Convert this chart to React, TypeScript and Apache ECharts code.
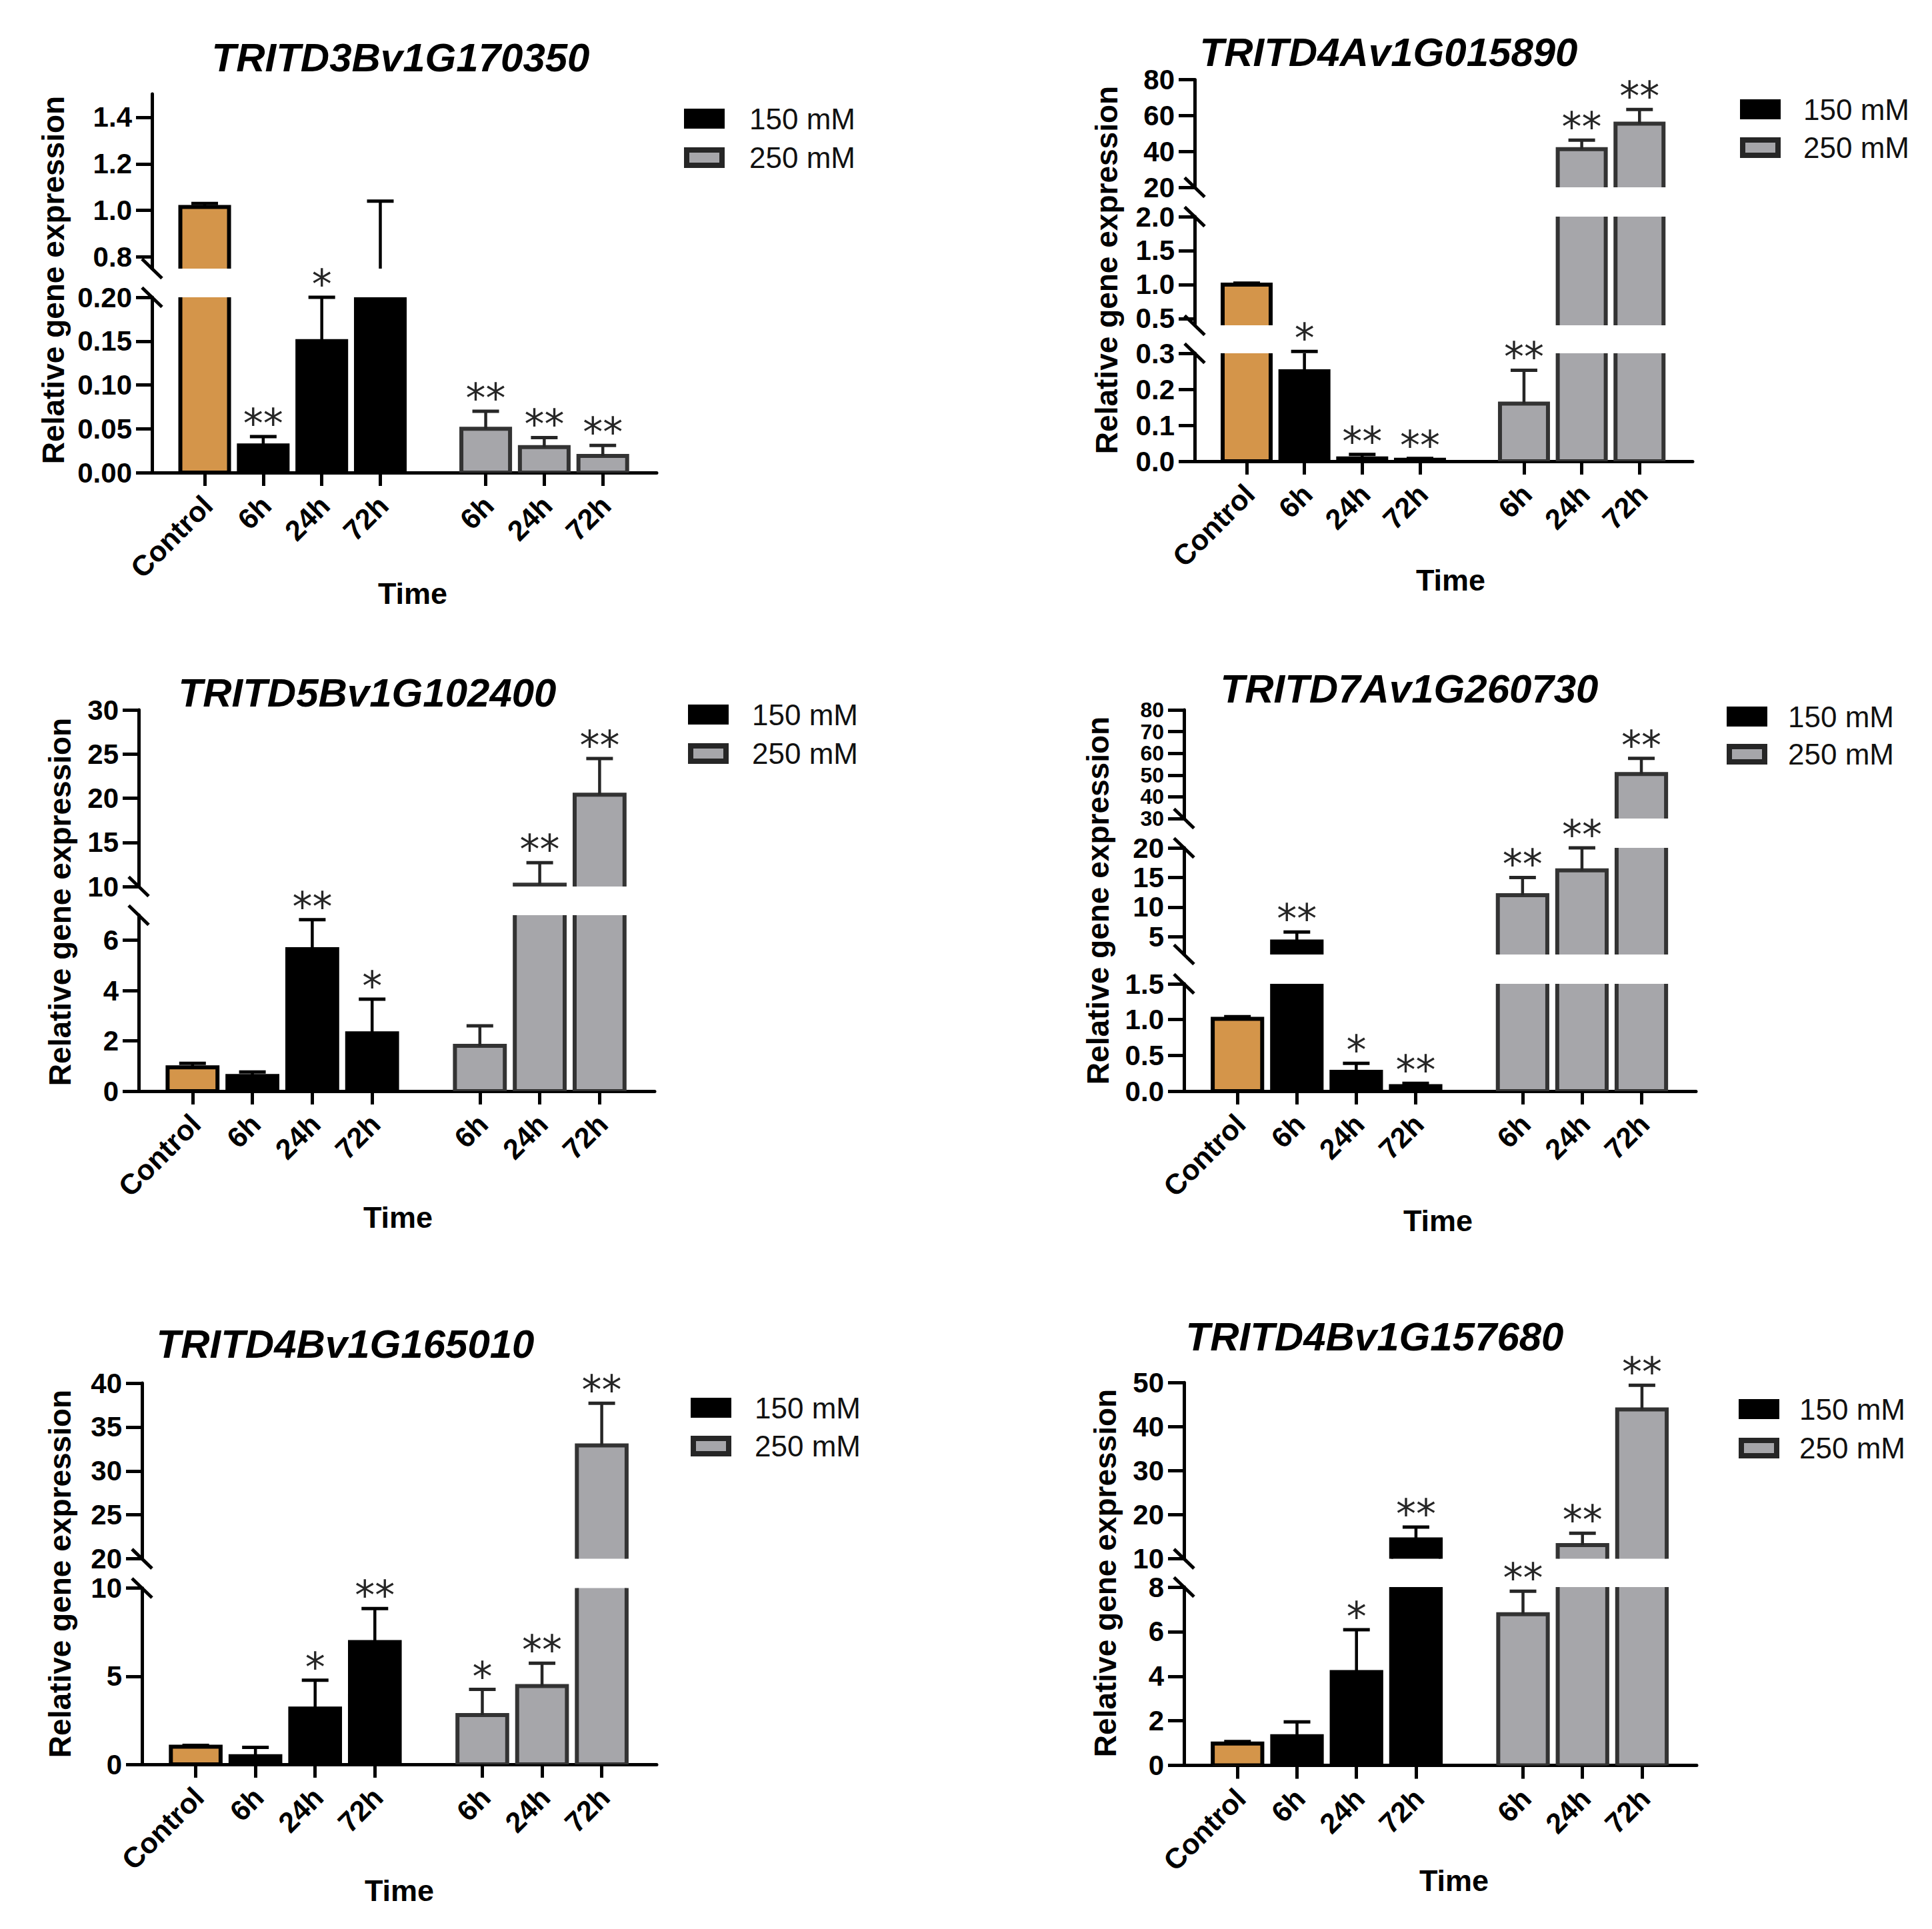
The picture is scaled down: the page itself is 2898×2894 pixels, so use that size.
import React, { useEffect, useRef } from "react";
import * as echarts from "echarts";

// ---------------- data ----------------
const GENES = [
  "TRITD3Bv1G170350",
  "TRITD4Av1G015890",
  "TRITD5Bv1G102400",
  "TRITD7Av1G260730",
  "TRITD4Bv1G165010",
  "TRITD4Bv1G157680",
];
const TIME_LABELS = ["Control", "6h", "24h", "72h", "6h", "24h", "72h"];
const X_POSITIONS = [0, 1, 2, 3, 4.8, 5.8, 6.8];
const LEGEND_LABELS = ["150 mM", "250 mM"];
const AXIS_X_NAME = "Time";
const AXIS_Y_NAME = "Relative gene expression";

const CONTROL_MEAN = [1.015, 1.0, 0.95, 1.01, 1.0, 0.98];
const CONTROL_SEM = [0.015, 0.02, 0.16, 0.03, 0.08, 0.09];

const MEAN_150 = [
  [0.031, 0.15, 0.5],
  [0.25, 0.008, 0.004],
  [0.6, 5.65, 2.3],
  [4.2, 0.27, 0.07],
  [0.46, 3.17, 6.94],
  [1.31, 4.19, 14.4],
];
const SEM_150 = [
  [0.01, 0.05, 0.54],
  [0.055, 0.011, 0.004],
  [0.16, 1.17, 1.36],
  [1.6, 0.12, 0.04],
  [0.5, 1.6, 1.9],
  [0.64, 1.9, 2.8],
];
const MEAN_250 = [
  [0.05, 0.029, 0.019],
  [0.16, 41.3, 55.5],
  [1.8, 10.2, 20.4],
  [12.0, 16.2, 50.5],
  [2.8, 4.44, 32.9],
  [6.78, 13.1, 43.9],
];
const SEM_250 = [
  [0.02, 0.011, 0.012],
  [0.093, 5.0, 7.9],
  [0.8, 2.5, 4.1],
  [3.0, 3.8, 7.2],
  [1.45, 1.3, 4.8],
  [1.03, 2.7, 5.5],
];
const SIG_150 = [
  ["**", "*", ""],
  ["*", "**", "**"],
  ["", "**", "*"],
  ["**", "*", "**"],
  ["", "*", "**"],
  ["", "*", "**"],
];
const SIG_250 = [
  ["**", "**", "**"],
  ["**", "**", "**"],
  ["", "**", "**"],
  ["**", "**", "**"],
  ["*", "**", "**"],
  ["**", "**", "**"],
];

// broken y-axis segments (bottom to top): value ranges, tick values, decimals
const SEG_RANGES = [
  [[0, 0.2], [0.75, 1.5]],
  [[0, 0.3], [0.4, 2.0], [20, 80]],
  [[0, 7], [10, 30]],
  [[0, 1.5], [2, 20], [30, 80]],
  [[0, 10], [20, 40]],
  [[0, 8], [10, 50]],
];
const SEG_TICKS = [
  [[0, 0.05, 0.1, 0.15, 0.2], [0.8, 1.0, 1.2, 1.4]],
  [[0, 0.1, 0.2, 0.3], [0.5, 1.0, 1.5, 2.0], [20, 40, 60, 80]],
  [[0, 2, 4, 6], [10, 15, 20, 25, 30]],
  [[0, 0.5, 1.0, 1.5], [5, 10, 15, 20], [30, 40, 50, 60, 70, 80]],
  [[0, 5, 10], [20, 25, 30, 35, 40]],
  [[0, 2, 4, 6, 8], [10, 20, 30, 40, 50]],
];
const SEG_DECIMALS = [[2, 1], [1, 1, 0], [0, 0], [1, 0, 0], [0, 0], [0, 0]];

// ---------------- layout (pixels) ----------------
const LAYOUT = [
  { left: 228, right: 985, seg: [[709, 446], [403, 141]], title: [601, 86], yTitle: [80, 420], time: [619, 890], lg: [1026, 163, 221, 1124] },
  { left: 1792, right: 2539, seg: [[692, 530], [488, 325], [281, 119.5]], title: [2083, 78], yTitle: [1660, 405], time: [2176, 870], lg: [2610, 149, 206, 2705] },
  { left: 208, right: 982, seg: [[1637, 1373], [1330, 1065]], title: [551, 1039], yTitle: [90, 1353], time: [597, 1826], lg: [1032, 1057, 1115, 1128] },
  { left: 1776, right: 2544, seg: [[1637, 1476], [1432, 1272], [1228, 1065]], title: [2114, 1033], yTitle: [1647, 1351], time: [2157, 1831], lg: [2590, 1060, 1116, 2682] },
  { left: 213, right: 985, seg: [[2647, 2382.5], [2338.6, 2075]], title: [518, 2016], yTitle: [90, 2361], time: [599, 2836], lg: [1036, 2097, 2154, 1132] },
  { left: 1776, right: 2545, seg: [[2648.6, 2381], [2338.6, 2074.3]], title: [2062, 2005], yTitle: [1658, 2360], time: [2181, 2821], lg: [2608, 2099, 2157, 2699] },
];

const X_MIN = -0.9;
const X_MAX = 7.72;
const LABEL_SHIFT = 0.05;
const BAR_STROKE = 6;
const AXIS_W = 5;
const STYLES = [
  { fill: "#d4954a", stroke: "#000000", err: "#000000" },
  { fill: "#000000", stroke: "#000000", err: "#000000" },
  { fill: "#a6a6aa", stroke: "#333333", err: "#262626" },
];
const ARIAL = "Liberation Sans, Arial, sans-serif";
const TICK_SIZE = 42;
const DENSE_TICK_SIZE = 32;

function panelItems(p: number) {
  const items: number[][] = [[X_POSITIONS[0], CONTROL_MEAN[p], CONTROL_SEM[p], 0, 0]];
  for (let i = 0; i < 3; i++) items.push([X_POSITIONS[1 + i], MEAN_150[p][i], SEM_150[p][i], 1, 1 + i]);
  for (let i = 0; i < 3; i++) items.push([X_POSITIONS[4 + i], MEAN_250[p][i], SEM_250[p][i], 2, 4 + i]);
  return items;
}

function xLabel(v: number) {
  for (let i = 0; i < X_POSITIONS.length; i++) {
    if (Math.abs(X_POSITIONS[i] + LABEL_SHIFT - v) < 0.02) return TIME_LABELS[i];
  }
  return "";
}

function buildOption() {
  const grid: any[] = [];
  const xAxis: any[] = [];
  const yAxis: any[] = [];
  const series: any[] = [];
  const graphic: any[] = [];
  const lineStyle = { color: "#000", width: AXIS_W };

  LAYOUT.forEach((L, p) => {
    const items = panelItems(p);
    const sigs = ["", ...SIG_150[p], ...SIG_250[p]];
    const segs = SEG_RANGES[p];
    segs.forEach((rng, s) => {
      const [bot, top] = L.seg[s];
      const gi = grid.length;
      grid.push({ left: L.left, top, width: L.right - L.left, height: bot - top, containLabel: false, outerBoundsMode: "none" });
      const isBottom = s === 0;
      xAxis.push({
        type: "value",
        gridIndex: gi,
        min: X_MIN,
        max: X_MAX,
        show: isBottom,
        axisLine: { show: true, onZero: false, lineStyle },
        axisTick: { show: true, customValues: X_POSITIONS, length: 20, lineStyle },
        axisLabel: {
          show: true,
          customValues: X_POSITIONS.map((v) => v + LABEL_SHIFT),
          formatter: (v: number) => xLabel(v),
          rotate: 45,
          margin: 42,
          hideOverlap: false,
          showMinLabel: true,
          showMaxLabel: true,
          fontFamily: ARIAL,
          fontWeight: "bold",
          fontSize: 43,
          color: "#000",
        },
        splitLine: { show: false },
      });
      const ticks = SEG_TICKS[p][s];
      const dec = SEG_DECIMALS[p][s];
      const spacing = (bot - top) * (ticks.length > 1 ? (ticks[1] - ticks[0]) / (rng[1] - rng[0]) : 1);
      const dense = spacing < 40;
      const fs = dense ? DENSE_TICK_SIZE : TICK_SIZE;
      yAxis.push({
        type: "value",
        gridIndex: gi,
        min: rng[0],
        max: rng[1],
        axisLine: { show: true, onZero: false, lineStyle },
        axisTick: { show: true, customValues: ticks, length: 24, lineStyle },
        axisLabel: {
          show: true,
          customValues: ticks,
          formatter: (v: number) => v.toFixed(dec),
          margin: 30,
          hideOverlap: false,
          showMinLabel: true,
          showMaxLabel: true,
          fontFamily: ARIAL,
          fontWeight: "bold",
          fontSize: fs,
          lineHeight: dense ? 30 : fs,
          color: "#000",
        },
        splitLine: { show: false },
      });
      // bars + error stems (clipped to the segment)
      series.push({
        type: "custom",
        xAxisIndex: gi,
        yAxisIndex: gi,
        clip: true,
        silent: true,
        encode: { x: 0, y: 1 },
        data: items,
        renderItem: (params: any, api: any) => {
          const x = api.value(0);
          const v = api.value(1);
          const e = api.value(2);
          const k = api.value(3);
          const base = api.coord([x, 0]);
          const tp = api.coord([x, v]);
          const et = api.coord([x, v + e]);
          const unit = api.size([1, 0])[0];
          const w = unit * 0.9 - BAR_STROKE;
          const st = STYLES[k];
          return {
            type: "group",
            children: [
              {
                type: "rect",
                shape: { x: tp[0] - w / 2, y: tp[1], width: w, height: base[1] - tp[1] },
                style: { fill: st.fill, stroke: st.stroke, lineWidth: BAR_STROKE },
              },
              {
                type: "line",
                shape: { x1: tp[0], y1: tp[1], x2: tp[0], y2: et[1] },
                style: { stroke: st.err, lineWidth: 4.5 },
              },
            ],
          };
        },
      });
      // error caps + significance marks (not clipped)
      const lo = rng[0];
      const hi = rng[1];
      const tol = (hi - lo) * 0.035;
      series.push({
        type: "custom",
        xAxisIndex: gi,
        yAxisIndex: gi,
        clip: false,
        silent: true,
        z: 3,
        encode: { x: 0, y: 1 },
        data: items,
        renderItem: (params: any, api: any) => {
          const x = api.value(0);
          const v = api.value(1);
          const e = api.value(2);
          const k = api.value(3);
          const idx = api.value(4);
          const cap = v + e;
          if (cap < lo - tol || cap > hi + tol) return { type: "group", children: [] };
          const et = api.coord([x, cap]);
          const st = STYLES[k];
          const children: any[] = [
            {
              type: "line",
              shape: { x1: et[0] - 20, y1: et[1], x2: et[0] + 20, y2: et[1] },
              style: { stroke: st.err, lineWidth: 5 },
            },
          ];
          const sg = sigs[idx];
          if (sg) {
            children.push({
              type: "text",
              x: et[0],
              y: et[1] - 20,
              style: {
                text: sg,
                fill: "#262626",
                fontFamily: "DejaVu Sans",
                fontSize: 60,
                align: "center",
                verticalAlign: "middle",
              },
            });
          }
          return { type: "group", children };
        },
      });
    });

    // break marks on the y axis
    segs.forEach((rng, s) => {
      const [bot, top] = L.seg[s];
      const ys: number[] = [];
      if (s < segs.length - 1) ys.push(top);
      if (s > 0) ys.push(bot);
      ys.forEach((y) => {
        graphic.push({
          type: "line",
          shape: { x1: L.left - 15, y1: y - 14.5, x2: L.left + 15, y2: y + 14.5 },
          style: { stroke: "#000", lineWidth: AXIS_W },
          z: 10,
        });
      });
    });

    // title
    graphic.push({
      type: "text",
      x: L.title[0],
      y: L.title[1],
      style: {
        text: GENES[p],
        fill: "#000",
        fontFamily: ARIAL,
        fontWeight: "bold",
        fontStyle: "italic",
        fontSize: 60,
        align: "center",
        verticalAlign: "middle",
      },
    });
    // y title
    graphic.push({
      type: "text",
      x: L.yTitle[0],
      y: L.yTitle[1],
      rotation: Math.PI / 2,
      style: {
        text: AXIS_Y_NAME,
        fill: "#000",
        fontFamily: ARIAL,
        fontWeight: "bold",
        fontSize: 46,
        align: "center",
        verticalAlign: "middle",
      },
    });
    // x title
    graphic.push({
      type: "text",
      x: L.time[0],
      y: L.time[1],
      style: {
        text: AXIS_X_NAME,
        fill: "#000",
        fontFamily: ARIAL,
        fontWeight: "bold",
        fontSize: 45,
        align: "center",
        verticalAlign: "middle",
      },
    });
    // legend
    const [lx, ly1, ly2, tx] = L.lg;
    graphic.push({ type: "rect", shape: { x: lx, y: ly1, width: 61, height: 30 }, style: { fill: "#000" } });
    graphic.push({
      type: "rect",
      shape: { x: lx + 4, y: ly2 + 4, width: 53, height: 23 },
      style: { fill: STYLES[2].fill, stroke: "#262626", lineWidth: 8 },
    });
    [ly1, ly2].forEach((yy, i) => {
      graphic.push({
        type: "text",
        x: tx,
        y: yy + 15,
        style: {
          text: LEGEND_LABELS[i],
          fill: "#111",
          fontFamily: ARIAL,
          fontSize: 44,
          align: "left",
          verticalAlign: "middle",
        },
      });
    });
  });

  return {
    animation: false,
    backgroundColor: "#ffffff",
    grid,
    xAxis,
    yAxis,
    series,
    graphic,
  };
}

export default function App() {
  const ref = useRef<HTMLDivElement>(null);
  useEffect(() => {
    if (!ref.current) return;
    const chart = echarts.init(ref.current, undefined, { renderer: "svg" });
    chart.setOption(buildOption() as any);
    return () => chart.dispose();
  }, []);
  return (
    <div
      ref={ref}
      style={{ position: "absolute", left: 0, top: 0, width: 2898, height: 2894, background: "#fff" }}
    />
  );
}
